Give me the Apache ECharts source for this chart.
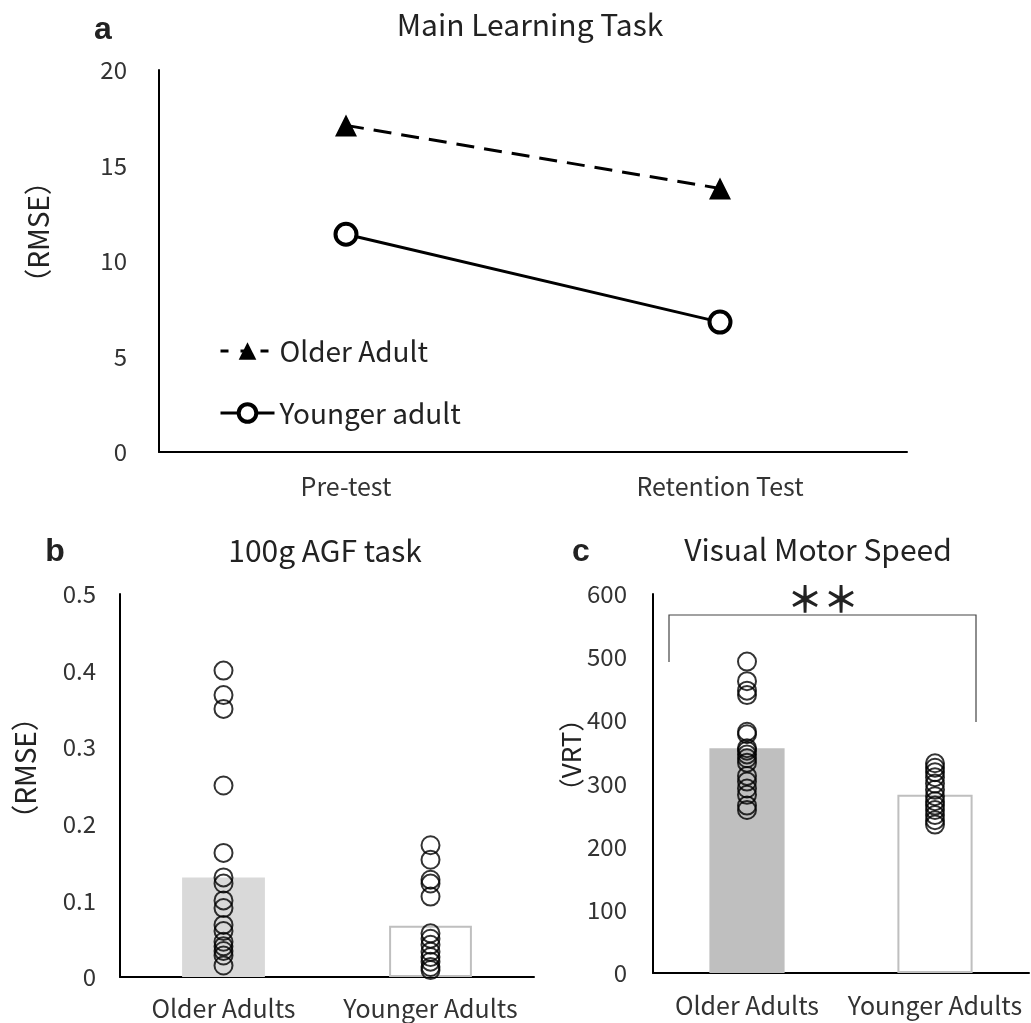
<!DOCTYPE html>
<html><head><meta charset="utf-8">
<script src="https://cdn.jsdelivr.net/npm/echarts@6/dist/echarts.min.js"></script>
<style>html,body{margin:0;padding:0;background:#fff}#c{width:1031px;height:1023px}</style>
</head><body><div id="c"></div>
<script>
const FONT = "'Noto Sans CJK JP', 'Noto Sans', sans-serif";

// Panel a: Main Learning Task
const phaseCategories = ['Pre-test', 'Retention Test'];
const olderAdultRMSE = [17.1, 13.8];
const youngerAdultRMSE = [11.4, 6.8];

// Panel b: 100g AGF task
const groupCategories = ['Older Adults', 'Younger Adults'];
const agfMeans = [0.13, 0.067];
const agfOlder = [0.40, 0.368, 0.35, 0.25, 0.162, 0.13, 0.122, 0.10, 0.09, 0.068, 0.06, 0.046, 0.04, 0.034, 0.028, 0.015];
const agfYounger = [0.172, 0.153, 0.127, 0.122, 0.105, 0.057, 0.05, 0.042, 0.033, 0.026, 0.02, 0.013, 0.009];

// Panel c: Visual Motor Speed
const vmsMeans = [356, 282];
const vmsOlder = [493, 462, 447, 440, 382, 378, 356, 352, 346, 340, 333, 312, 303, 292, 282, 265, 258];
const vmsYounger = [332, 325, 318, 310, 300, 290, 280, 272, 265, 258, 250, 242, 235];

const chart = echarts.init(document.getElementById('c'));

function yAx(gi, min, max, interval, margin) {
  return {
    type: 'value', gridIndex: gi, min, max, interval,
    axisLine: { show: true, lineStyle: { color: '#000', width: 2 } },
    axisTick: { show: false },
    splitLine: { show: false },
    axisLabel: { color: '#333', fontSize: 24, fontFamily: FONT, margin }
  };
}
function xAx(gi, data, margin) {
  return {
    type: 'category', gridIndex: gi, data,
    axisLine: { show: true, lineStyle: { color: '#000', width: 2 } },
    axisTick: { show: false },
    axisLabel: { color: '#333', fontSize: 25, fontFamily: FONT, margin, interval: 0, hideOverlap: false }
  };
}
function pts(idx, arr) { return arr.map(v => [idx, v]); }
const circleStyle = { color: 'rgba(0,0,0,0)', borderColor: '#000', borderWidth: 2 };

function txt(x, y, text, size, weight, rot, font) {
  return {
    type: 'text', x, y, rotation: rot || 0,
    style: { text, fontSize: size, fontWeight: weight || 'normal', fontFamily: font || FONT,
      fill: '#222', textAlign: 'center', textVerticalAlign: 'middle' }
  };
}

chart.setOption({
  backgroundColor: '#fff',
  animation: false,
  grid: [
    { left: 159, top: 70, width: 748, height: 382 },
    { left: 120, top: 594, width: 414, height: 383 },
    { left: 653, top: 594, width: 376, height: 379 }
  ],
  xAxis: [xAx(0, phaseCategories, 22), xAx(1, groupCategories, 19), xAx(2, groupCategories, 20)],
  yAxis: [yAx(0, 0, 20, 5, 32), yAx(1, 0, 0.5, 0.1, 24), yAx(2, 0, 600, 100, 26)],
  legend: {
    orient: 'vertical', left: 214, top: 332, itemWidth: 54, itemHeight: 22, itemGap: 34,
    textStyle: { fontSize: 28, fontFamily: FONT, color: '#222' },
    data: [
      { name: 'Older Adult', lineStyle: { width: 3, type: [8, 12] } },
      { name: 'Younger adult', lineStyle: { width: 3 }, itemStyle: { borderWidth: 4 } }
    ]
  },
  series: [
    { name: 'Older Adult', type: 'line', xAxisIndex: 0, yAxisIndex: 0, data: olderAdultRMSE,
      symbol: 'triangle', symbolSize: 22,
      lineStyle: { color: '#000', width: 3, type: [18, 10] },
      itemStyle: { color: '#000' } },
    { name: 'Younger adult', type: 'line', xAxisIndex: 0, yAxisIndex: 0, data: youngerAdultRMSE,
      symbol: 'circle', symbolSize: 21,
      lineStyle: { color: '#000', width: 3 },
      itemStyle: { color: '#fff', borderColor: '#000', borderWidth: 4 } },
    { type: 'bar', xAxisIndex: 1, yAxisIndex: 1, barWidth: '40%',
      data: [
        { value: agfMeans[0], itemStyle: { color: '#d9d9d9' } },
        { value: agfMeans[1], itemStyle: { color: '#fff', borderColor: '#bfbfbf', borderWidth: 2 } }
      ] },
    { type: 'scatter', xAxisIndex: 1, yAxisIndex: 1, symbolSize: 18, z: 5,
      data: pts(0, agfOlder).concat(pts(1, agfYounger)), itemStyle: circleStyle },
    { type: 'bar', xAxisIndex: 2, yAxisIndex: 2, barWidth: '40%',
      data: [
        { value: vmsMeans[0], itemStyle: { color: '#bfbfbf' } },
        { value: vmsMeans[1], itemStyle: { color: '#fff', borderColor: '#bfbfbf', borderWidth: 2 } }
      ] },
    { type: 'scatter', xAxisIndex: 2, yAxisIndex: 2, symbolSize: 18, z: 5,
      data: pts(0, vmsOlder).concat(pts(1, vmsYounger)), itemStyle: circleStyle }
  ],
  graphic: [
    txt(103, 30, 'a', 32, 'bold', 0, "'Liberation Sans', Arial, sans-serif"),
    txt(55, 552, 'b', 32, 'bold', 0, "'Liberation Sans', Arial, sans-serif"),
    txt(581, 552, 'c', 32, 'bold', 0, "'Liberation Sans', Arial, sans-serif"),
    txt(530, 25, 'Main Learning Task', 30),
    txt(325, 551, '100g AGF task', 30),
    txt(818, 550, 'Visual Motor Speed', 30),
    txt(38, 232, '（RMSE）', 28, 'normal', Math.PI / 2),
    txt(25, 768, '（RMSE）', 28, 'normal', Math.PI / 2),
    txt(571, 755, '（VRT）', 26, 'normal', Math.PI / 2),
    { type: 'polyline', shape: { points: [[669, 662], [669, 615], [976, 615], [976, 722]] },
      style: { stroke: '#444', lineWidth: 1.2, fill: null } },
    txt(823, 599, '＊＊', 36, 'bold')
  ]
});
</script></body></html>
